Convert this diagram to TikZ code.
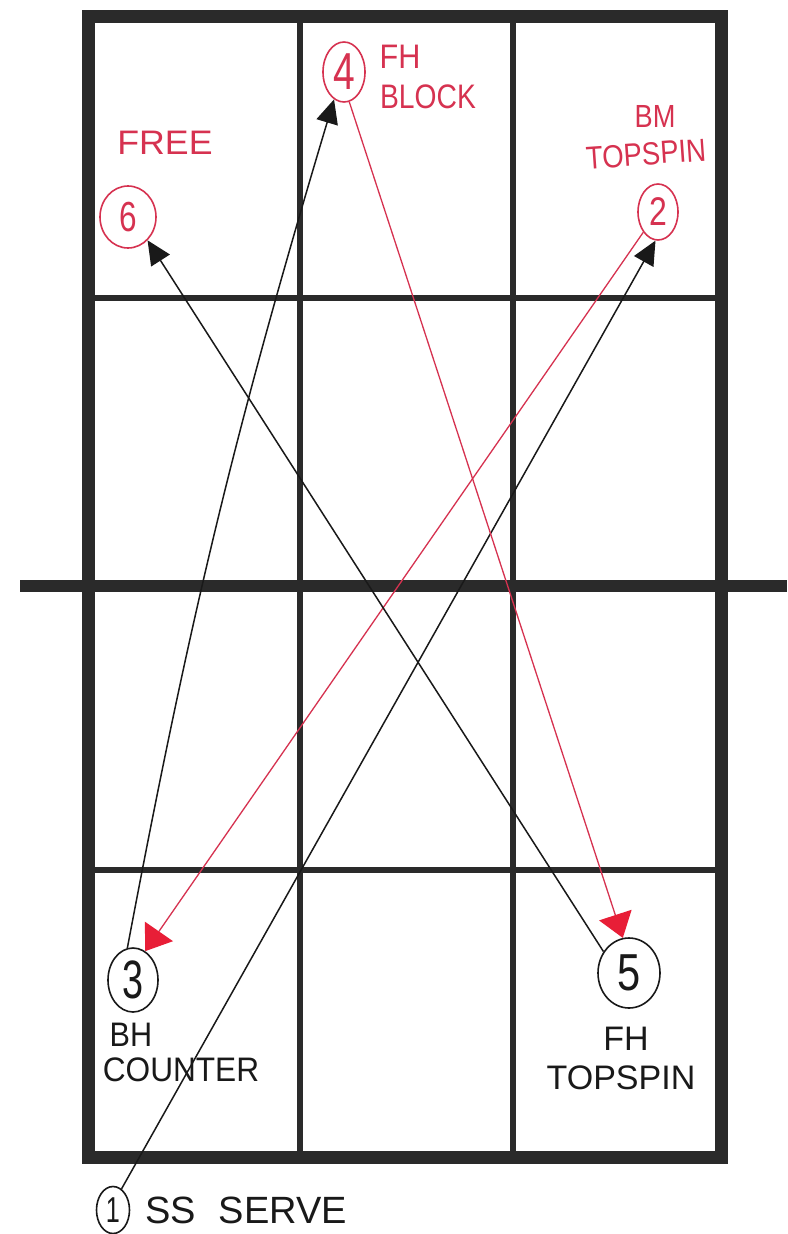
\documentclass[tikz,border=0pt]{standalone}
\usepackage{fontspec}
\setmainfont{Liberation Sans}
\usetikzlibrary{arrows.meta,shapes.geometric}
\definecolor{ink}{RGB}{25,25,25}
\definecolor{gridc}{RGB}{42,42,42}
\definecolor{penred}{RGB}{214,50,80}
\definecolor{headred}{RGB}{232,30,55}
\newcommand{\hsq}[2]{\scalebox{#1}[1]{#2}}
\begin{document}
\begin{tikzpicture}[x=1pt,y=-1pt,
  frame/.style={draw=gridc,line width=13pt},
  thinline/.style={draw=gridc,line width=6pt},
  netline/.style={draw=gridc,line width=12pt},
  spot/.style={ellipse,draw,line width=1.6pt,inner sep=0pt},
  num/.style={inner sep=0pt},
  lab/.style={inner sep=0pt,font=\fontsize{34}{34}\selectfont},
  blackshot/.style={draw=ink,line width=1.5pt,-{Triangle[length=24pt,width=22pt,color=ink]}},
  redshot/.style={draw=penred,line width=1.3pt,-{Triangle[length=24pt,width=34pt,color=headred]}},
]
\useasboundingbox (0,0) rectangle (787,1234);
\fill[white] (0,0) rectangle (787,1234);
% grid
\draw[thinline] (300,16) -- (300,1157.5);
\draw[thinline] (513,16) -- (513,1157.5);
\draw[thinline] (88.5,298) -- (721.5,298);
\draw[thinline] (88.5,870) -- (721.5,870);
\draw[frame] (88.5,16) rectangle (721.5,1157.5);
\draw[netline] (20,586) -- (787,586);
% spots
\node[spot,draw=ink,minimum width=33pt,minimum height=47pt] (n1) at (113,1210) {};
\node[spot,draw=penred,minimum width=40pt,minimum height=56pt] (n2) at (658,212) {};
\node[spot,draw=ink,minimum width=50pt,minimum height=64pt] (n3) at (133,980) {};
\node[spot,draw=penred,minimum width=42pt,minimum height=60pt] (n4) at (344,72) {};
\node[spot,draw=ink,minimum width=62pt,minimum height=70pt] (n5) at (629,973) {};
\node[spot,draw=penred,minimum width=56pt,minimum height=62pt] (n6) at (128,217) {};
\node[num,text=ink,font=\fontsize{36}{36}\selectfont] (d1) at (n1) {\hsq{0.7}{1}};
\node[num,text=penred,font=\fontsize{40}{40}\selectfont] (d2) at (n2) {\hsq{0.8}{2}};
\node[num,text=ink,font=\fontsize{54}{54}\selectfont] (d3) at (n3) {\hsq{0.7}{3}};
\node[num,text=penred,font=\fontsize{52}{52}\selectfont] (d4) at (n4) {\hsq{0.75}{4}};
\node[num,text=ink,font=\fontsize{52}{52}\selectfont] (d5) at (n5) {\hsq{0.8}{5}};
\node[num,text=penred,font=\fontsize{42}{42}\selectfont] (d6) at (n6) {\hsq{0.75}{6}};
% labels
\node[lab,text=penred] (freeL) at (165,143) {\hsq{1.05}{FREE}};
\node[lab,text=penred] (fhT) at (400,57) {\hsq{0.9}{FH}};
\node[lab,text=penred] (blockT) at (428,97) {\hsq{0.83}{BLOCK}};
\node[lab,text=penred,font=\fontsize{32}{32}\selectfont] (bmT) at (655,116) {\hsq{0.85}{BM}};
\node[lab,text=penred,font=\fontsize{32}{32}\selectfont,rotate=4] (tsT) at (646,154) {\hsq{0.86}{TOPSPIN}};
\node[lab,text=ink] (bhB) at (131,1035) {\hsq{0.9}{BH}};
\node[lab,text=ink] (ctB) at (181,1070) {\hsq{0.93}{COUNTER}};
\node[lab,text=ink] (fhB) at (626,1039) {FH};
\node[lab,text=ink] (tsB) at (621,1078) {TOPSPIN};
\node[lab,text=ink,font=\fontsize{38}{38}\selectfont,anchor=west] (serve) at (145,1210) {SS\hspace{0.6em}SERVE};
% shots
\draw[blackshot] (n1.68) -- (n2.265);
\draw[redshot] (n2.234) -- (n3.67);
\draw[blackshot] (n3.100) to[bend left=3] (n4.250);
\draw[redshot] (n4.280) -- (n5.100);
\draw[blackshot] (n5.140) -- (n6.310);
\end{tikzpicture}
\end{document}
